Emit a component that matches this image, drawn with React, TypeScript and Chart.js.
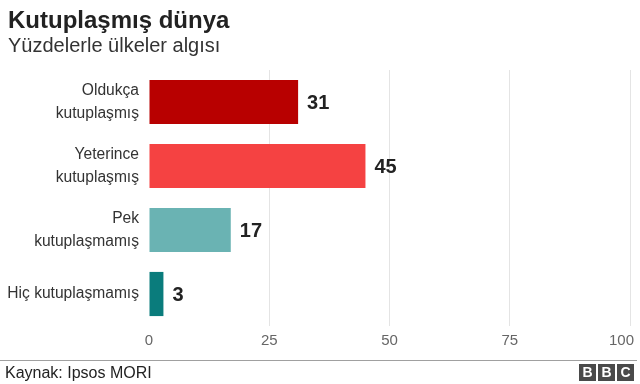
import React, { useEffect, useRef } from "react";
import { Chart, registerables } from "chart.js";

Chart.register(...registerables);

const categories: string[][] = [
  ["Oldukça", "kutuplaşmış"],
  ["Yeterince", "kutuplaşmış"],
  ["Pek", "kutuplaşmamış"],
  ["Hiç kutuplaşmamış"],
];
const values: number[] = [31, 45, 17, 3];
const barColors: string[] = ["#B80000", "#F54242", "#6AB3B3", "#0A7C7C"];
const xTicks: number[] = [0, 25, 50, 75, 100];

const FONT = '"Liberation Sans", Arial, Helvetica, sans-serif';

const valueLabels = {
  id: "valueLabels",
  afterDatasetsDraw(chart: any) {
    const ctx = chart.ctx;
    const meta = chart.getDatasetMeta(0);
    ctx.save();
    ctx.font = `bold 20px ${FONT}`;
    ctx.fillStyle = "#222222";
    ctx.textAlign = "left";
    ctx.textBaseline = "middle";
    meta.data.forEach((bar: any, i: number) => {
      ctx.fillText(String(values[i]), bar.x + 9, bar.y + 1);
    });
    // x-axis tick labels, kept inside the canvas at the right edge
    const xs = chart.scales.x;
    ctx.font = `15px ${FONT}`;
    ctx.fillStyle = "#666666";
    ctx.textBaseline = "middle";
    xTicks.forEach((v) => {
      const label = String(v);
      const px = xs.getPixelForValue(v);
      const w = ctx.measureText(label).width;
      let left = px - w / 2;
      if (left + w > chart.width - 6) left = chart.width - 6 - w;
      ctx.textAlign = "left";
      ctx.fillText(label, left, 341);
    });
    ctx.restore();
  },
};

export default function App() {
  const ref = useRef<HTMLCanvasElement | null>(null);
  useEffect(() => {
    document.body.style.margin = "0";
    if (!ref.current) return;
    const chart = new Chart(ref.current, {
      type: "bar",
      data: {
        labels: categories,
        datasets: [
          {
            data: values,
            backgroundColor: barColors,
            barPercentage: 0.69,
            categoryPercentage: 1,
          },
        ],
      },
      options: {
        indexAxis: "y",
        animation: false,
        responsive: false,
        maintainAspectRatio: false,
        layout: { padding: { left: 0, right: 0, top: 70, bottom: 28 } },
        plugins: { legend: { display: false }, tooltip: { enabled: false } },
        scales: {
          x: {
            type: "linear",
            min: 0,
            max: 100,
            afterBuildTicks: (s: any) => {
              s.ticks = xTicks.map((v) => ({ value: v }));
            },
            afterFit: (s: any) => {
              s.height = 30;
              s.paddingRight = 10;
              s.paddingLeft = 0;
            },
            border: { display: false },
            grid: {
              drawTicks: false,
              color: (c: any) => (c.tick && c.tick.value === 0 ? "rgba(0,0,0,0)" : "#e4e4e4"),
              lineWidth: 1,
            },
            ticks: {
              display: false,
              maxRotation: 0,
            },
          },
          y: {
            afterFit: (s: any) => {
              s.width = 149;
            },
            border: { display: false },
            grid: { display: false, drawTicks: false },
            ticks: {
              padding: 10,
              color: "#333333",
              font: { family: FONT, size: 15.6, lineHeight: 1.48 },
            },
          },
        },
      },
      plugins: [valueLabels],
    });
    return () => chart.destroy();
  }, []);

  const logoBox: React.CSSProperties = {
    display: "inline-block",
    width: 17,
    height: 17,
    marginLeft: 2,
    background: "#4a4a4a",
    color: "#ffffff",
    fontFamily: FONT,
    fontWeight: "bold",
    fontSize: 14,
    lineHeight: "17px",
    textAlign: "center",
  };

  return (
    <div style={{ position: "relative", width: 640, height: 384, background: "#fff", overflow: "hidden" }}>
      <canvas ref={ref} width={640} height={384} style={{ position: "absolute", left: 0, top: 0 }} />
      <div
        style={{
          position: "absolute",
          left: 8,
          top: 6,
          fontFamily: FONT,
          fontWeight: "bold",
          fontSize: 24,
          color: "#222222",
          lineHeight: "28px",
        }}
      >
        Kutuplaşmış dünya
      </div>
      <div
        style={{
          position: "absolute",
          left: 8,
          top: 33,
          fontFamily: FONT,
          fontSize: 20,
          color: "#333333",
          lineHeight: "24px",
        }}
      >
        Yüzdelerle ülkeler algısı
      </div>
      <div style={{ position: "absolute", left: 0, top: 360, width: 637, height: 1, background: "#a0a0a0" }} />
      <div
        style={{
          position: "absolute",
          left: 5,
          top: 363,
          fontFamily: FONT,
          fontSize: 16,
          color: "#222222",
          lineHeight: "19px",
        }}
      >
        Kaynak: Ipsos MORI
      </div>
      <div style={{ position: "absolute", left: 577, top: 364, height: 17, display: "flex" }}>
        <span style={logoBox}>B</span>
        <span style={logoBox}>B</span>
        <span style={logoBox}>C</span>
      </div>
    </div>
  );
}
